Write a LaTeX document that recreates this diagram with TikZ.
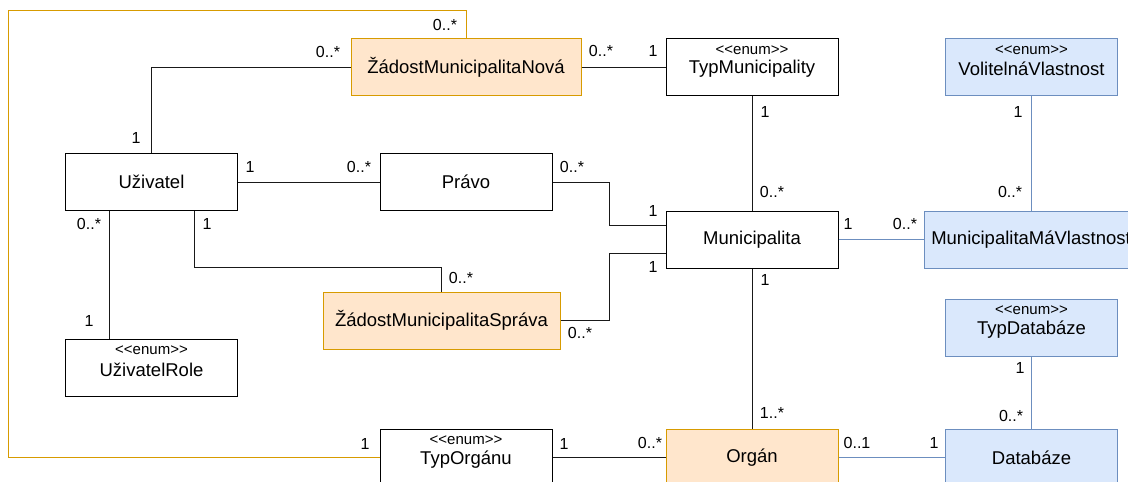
\documentclass[tikz,border=0pt]{standalone}
\usepackage{fontspec}
\newfontfamily\dioFont{Liberation Sans}
\usepackage{tikz}
\definecolor{ocFill}{HTML}{FFE6CC}
\definecolor{ocLine}{HTML}{D79B00}
\definecolor{bcFill}{HTML}{DAE8FC}
\definecolor{bcLine}{HTML}{6C8EBF}
\newcommand{\stereo}{<\kern0pt<enum>\kern0pt>}

\tikzset{
	cls/.style={draw=black, line width=1pt, minimum width=172pt, minimum height=57pt, inner sep=0pt, font=\dioFont\fontsize{18.5}{21}\selectfont},
	ocls/.style={cls, fill=ocFill, draw=ocLine},
	bcls/.style={cls, fill=bcFill, draw=bcLine},
	stereolbl/.style={yshift=17pt, inner sep=0pt, font=\dioFont\fontsize{15}{17}\selectfont},
	namelbl/.style={yshift=-2pt, inner sep=0pt, font=\dioFont\fontsize{18.5}{21}\selectfont},
	mult/.style={inner sep=0pt, font=\dioFont\fontsize{16}{18}\selectfont},
	assoc/.style={line width=1pt, draw=black!90},
	bassoc/.style={line width=1pt, draw=bcLine},
	oassoc/.style={line width=1pt, draw=ocLine}
}

\begin{document}
\begin{tikzpicture}[x=1pt, y=-1pt]
		%%%%% START %%%%%
		\useasboundingbox (0, 0) rectangle (1128, 482);
		\clip (0, 0) rectangle (1128, 482);
		
		% classes
		\node[ocls, minimum width=230pt] (zadnova) at (466, 67) {ŽádostMunicipalitaNová};
		\node[cls, label={[stereolbl]center:\stereo}, label={[namelbl]center:TypMunicipality}] (typmun) at (752, 67) {};
		\node[bcls, label={[stereolbl]center:\stereo}, label={[namelbl]center:VolitelnáVlastnost}] (volit) at (1031.5, 67) {};
		
		\node[cls] (uziv) at (151.5, 182) {Uživatel};
		\node[cls] (pravo) at (466, 182) {Právo};
		\node[cls] (mun) at (752, 239.5) {Municipalita};
		\node[bcls, minimum width=214pt] (mvl) at (1031, 239.5) {MunicipalitaMáVlastnost};
		
		\node[ocls, minimum width=237pt] (zadspr) at (441.5, 320.5) {ŽádostMunicipalitaSpráva};
		\node[cls, label={[stereolbl]center:\stereo}, label={[namelbl]center:UživatelRole}] (urole) at (151.5, 367.5) {};
		\node[bcls, label={[stereolbl]center:\stereo}, label={[namelbl]center:TypDatabáze}] (typdb) at (1031.5, 327.5) {};
		
		\node[cls, label={[stereolbl]center:\stereo}, label={[namelbl]center:TypOrgánu}] (typorg) at (466, 457.5) {};
		\node[ocls] (org) at (752, 457.5) {Orgán};
		\node[bcls] (db) at (1031.5, 457.5) {Databáze};
		
		% associations
		\coordinate (loopTL) at (8, 10);
		\draw[oassoc] (zadnova.north) |- (loopTL) |- (typorg.west);
		\draw[assoc] (uziv.north) |- (zadnova.west);
		\draw[assoc] (uziv.east) -- (pravo.west);
		\draw[assoc] (pravo.east) -- ++(57, 0) |- ([yshift=14pt]mun.west);
		\draw[assoc] (zadnova.east) -- (typmun.west);
		\draw[assoc] (typmun.south) -- (mun.north);
		\draw[bassoc] (volit.south) -- (volit.south |- mvl.north);
		\draw[bassoc] (mun.east) -- (mvl.west);
		\draw[assoc] ([xshift=-42.5pt]uziv.south) -- ([xshift=-42.5pt]uziv.south |- urole.north);
		\draw[assoc] ([xshift=42.5pt]uziv.south) -- ++(0, 56) -| (zadspr.north);
		\draw[assoc] (zadspr.east) -- ++(49, 0) |- ([yshift=-14pt]mun.west);
		\draw[assoc] (mun.south) -- (org.north);
		\draw[assoc] (typorg.east) -- (org.west);
		\draw[bassoc] (org.east) -- (db.west);
		\draw[bassoc] (typdb.south) -- (db.north);
		
		% multiplicities
		\node[mult] (mLoopA) at (445, 25) {0..*};
		\node[mult] (mLoopB) at (365, 444) {1};
		\node[mult] (mUzNovA) at (136, 138) {1};
		\node[mult] (mUzNovB) at (328, 52) {0..*};
		\node[mult] (mUzPrA) at (250, 167) {1};
		\node[mult] (mUzPrB) at (359, 167) {0..*};
		\node[mult] (mPrMunA) at (572, 167) {0..*};
		\node[mult] (mPrMunB) at (653, 211) {1};
		\node[mult] (mNovTypA) at (601, 51) {0..*};
		\node[mult] (mNovTypB) at (653, 51) {1};
		\node[mult] (mTypMunA) at (765, 112) {1};
		\node[mult] (mTypMunB) at (772, 192) {0..*};
		\node[mult] (mVolA) at (1018, 112) {1};
		\node[mult] (mVolB) at (1010, 192) {0..*};
		\node[mult] (mMunMvlA) at (848, 224) {1};
		\node[mult] (mMunMvlB) at (905, 224) {0..*};
		\node[mult] (mUzRoleA) at (89, 224) {0..*};
		\node[mult] (mUzRoleB) at (89, 321) {1};
		\node[mult] (mUzSprA) at (207, 224) {1};
		\node[mult] (mUzSprB) at (461, 278) {0..*};
		\node[mult] (mSprMunA) at (580, 333) {0..*};
		\node[mult] (mSprMunB) at (653, 267) {1};
		\node[mult] (mMunOrgA) at (765, 280) {1};
		\node[mult] (mMunOrgB) at (772, 413) {1..*};
		\node[mult] (mTypOrgA) at (564, 444) {1};
		\node[mult] (mTypOrgB) at (650, 443) {0..*};
		\node[mult] (mOrgDbA) at (857, 443) {0..1};
		\node[mult] (mOrgDbB) at (934, 443) {1};
		\node[mult] (mTypDbA) at (1020, 368) {1};
		\node[mult] (mTypDbB) at (1011, 416) {0..*};
		
		%%%%% END %%%%%
	\end{tikzpicture}
\end{document}
